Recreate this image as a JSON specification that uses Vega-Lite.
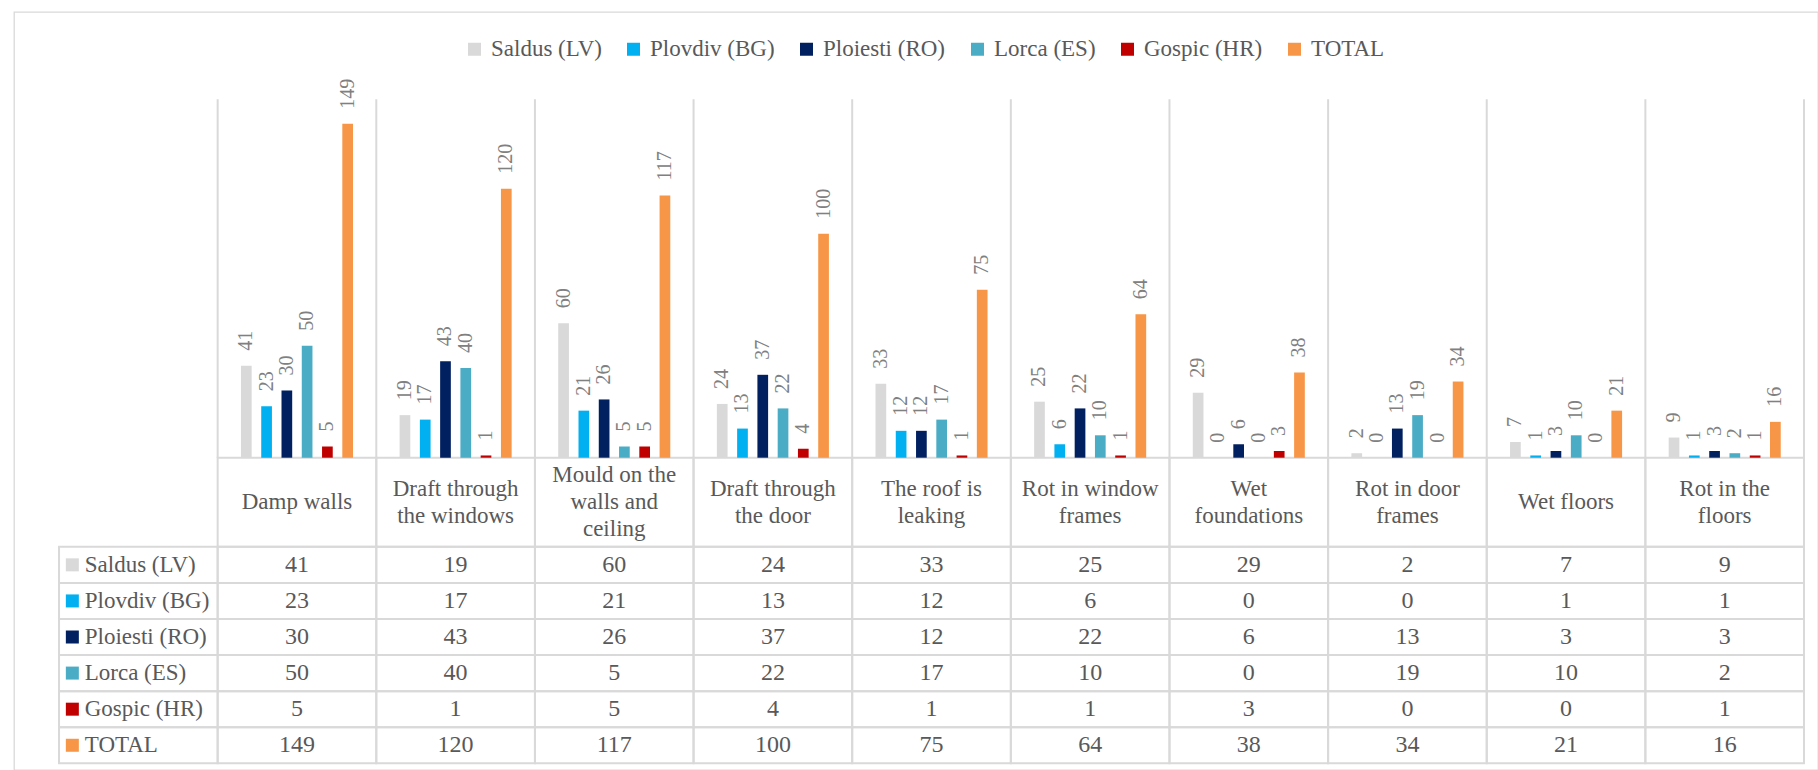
{
  "$schema": "https://vega.github.io/schema/vega-lite/v6.json",
  "width": 1804,
  "height": 758,
  "autosize": {"type": "none"},
  "padding": {"left": 14, "top": 12, "right": 0, "bottom": 0},
  "background": "white",
  "config": {
    "view": {"stroke": "#d9d9d9", "strokeWidth": 1.3},
    "font": "Liberation Serif",
    "text": {"font": "Liberation Serif"}
  },
  "datasets": {
    "counts": [
      {"issue": "Damp walls", "place": "Saldus (LV)", "n": 41},
      {"issue": "Damp walls", "place": "Plovdiv (BG)", "n": 23},
      {"issue": "Damp walls", "place": "Ploiesti (RO)", "n": 30},
      {"issue": "Damp walls", "place": "Lorca (ES)", "n": 50},
      {"issue": "Damp walls", "place": "Gospic (HR)", "n": 5},
      {"issue": "Damp walls", "place": "TOTAL", "n": 149},
      {"issue": "Draft through the windows", "place": "Saldus (LV)", "n": 19},
      {"issue": "Draft through the windows", "place": "Plovdiv (BG)", "n": 17},
      {"issue": "Draft through the windows", "place": "Ploiesti (RO)", "n": 43},
      {"issue": "Draft through the windows", "place": "Lorca (ES)", "n": 40},
      {"issue": "Draft through the windows", "place": "Gospic (HR)", "n": 1},
      {"issue": "Draft through the windows", "place": "TOTAL", "n": 120},
      {"issue": "Mould on the walls and ceiling", "place": "Saldus (LV)", "n": 60},
      {"issue": "Mould on the walls and ceiling", "place": "Plovdiv (BG)", "n": 21},
      {"issue": "Mould on the walls and ceiling", "place": "Ploiesti (RO)", "n": 26},
      {"issue": "Mould on the walls and ceiling", "place": "Lorca (ES)", "n": 5},
      {"issue": "Mould on the walls and ceiling", "place": "Gospic (HR)", "n": 5},
      {"issue": "Mould on the walls and ceiling", "place": "TOTAL", "n": 117},
      {"issue": "Draft through the door", "place": "Saldus (LV)", "n": 24},
      {"issue": "Draft through the door", "place": "Plovdiv (BG)", "n": 13},
      {"issue": "Draft through the door", "place": "Ploiesti (RO)", "n": 37},
      {"issue": "Draft through the door", "place": "Lorca (ES)", "n": 22},
      {"issue": "Draft through the door", "place": "Gospic (HR)", "n": 4},
      {"issue": "Draft through the door", "place": "TOTAL", "n": 100},
      {"issue": "The roof is leaking", "place": "Saldus (LV)", "n": 33},
      {"issue": "The roof is leaking", "place": "Plovdiv (BG)", "n": 12},
      {"issue": "The roof is leaking", "place": "Ploiesti (RO)", "n": 12},
      {"issue": "The roof is leaking", "place": "Lorca (ES)", "n": 17},
      {"issue": "The roof is leaking", "place": "Gospic (HR)", "n": 1},
      {"issue": "The roof is leaking", "place": "TOTAL", "n": 75},
      {"issue": "Rot in window frames", "place": "Saldus (LV)", "n": 25},
      {"issue": "Rot in window frames", "place": "Plovdiv (BG)", "n": 6},
      {"issue": "Rot in window frames", "place": "Ploiesti (RO)", "n": 22},
      {"issue": "Rot in window frames", "place": "Lorca (ES)", "n": 10},
      {"issue": "Rot in window frames", "place": "Gospic (HR)", "n": 1},
      {"issue": "Rot in window frames", "place": "TOTAL", "n": 64},
      {"issue": "Wet foundations", "place": "Saldus (LV)", "n": 29},
      {"issue": "Wet foundations", "place": "Plovdiv (BG)", "n": 0},
      {"issue": "Wet foundations", "place": "Ploiesti (RO)", "n": 6},
      {"issue": "Wet foundations", "place": "Lorca (ES)", "n": 0},
      {"issue": "Wet foundations", "place": "Gospic (HR)", "n": 3},
      {"issue": "Wet foundations", "place": "TOTAL", "n": 38},
      {"issue": "Rot in door frames", "place": "Saldus (LV)", "n": 2},
      {"issue": "Rot in door frames", "place": "Plovdiv (BG)", "n": 0},
      {"issue": "Rot in door frames", "place": "Ploiesti (RO)", "n": 13},
      {"issue": "Rot in door frames", "place": "Lorca (ES)", "n": 19},
      {"issue": "Rot in door frames", "place": "Gospic (HR)", "n": 0},
      {"issue": "Rot in door frames", "place": "TOTAL", "n": 34},
      {"issue": "Wet floors", "place": "Saldus (LV)", "n": 7},
      {"issue": "Wet floors", "place": "Plovdiv (BG)", "n": 1},
      {"issue": "Wet floors", "place": "Ploiesti (RO)", "n": 3},
      {"issue": "Wet floors", "place": "Lorca (ES)", "n": 10},
      {"issue": "Wet floors", "place": "Gospic (HR)", "n": 0},
      {"issue": "Wet floors", "place": "TOTAL", "n": 21},
      {"issue": "Rot in the floors", "place": "Saldus (LV)", "n": 9},
      {"issue": "Rot in the floors", "place": "Plovdiv (BG)", "n": 1},
      {"issue": "Rot in the floors", "place": "Ploiesti (RO)", "n": 3},
      {"issue": "Rot in the floors", "place": "Lorca (ES)", "n": 2},
      {"issue": "Rot in the floors", "place": "Gospic (HR)", "n": 1},
      {"issue": "Rot in the floors", "place": "TOTAL", "n": 16}
    ],
    "issues": [
      {"issue": "Damp walls", "label": "Damp walls"},
      {"issue": "Draft through the windows", "label": "Draft through\nthe windows"},
      {"issue": "Mould on the walls and ceiling", "label": "Mould on the\nwalls and\nceiling"},
      {"issue": "Draft through the door", "label": "Draft through\nthe door"},
      {"issue": "The roof is leaking", "label": "The roof is\nleaking"},
      {"issue": "Rot in window frames", "label": "Rot in window\nframes"},
      {"issue": "Wet foundations", "label": "Wet\nfoundations"},
      {"issue": "Rot in door frames", "label": "Rot in door\nframes"},
      {"issue": "Wet floors", "label": "Wet floors"},
      {"issue": "Rot in the floors", "label": "Rot in the\nfloors"}
    ],
    "places": [
      {"place": "Saldus (LV)"},
      {"place": "Plovdiv (BG)"},
      {"place": "Ploiesti (RO)"},
      {"place": "Lorca (ES)"},
      {"place": "Gospic (HR)"},
      {"place": "TOTAL"}
    ]
  },
  "resolve": {"scale": {"y": "independent"}},
  "layer": [
    {
      "data": {"name": "issues"},
      "mark": {"type": "rule", "color": "#d9d9d9", "strokeWidth": 2},
      "encoding": {
        "x": {"field": "issue", "type": "nominal", "bandPosition": 0, "axis": null,
              "scale": {"type": "band", "domain": ["Place", "Damp walls", "Draft through the windows", "Mould on the walls and ceiling", "Draft through the door", "The roof is leaking", "Rot in window frames", "Wet foundations", "Rot in door frames", "Wet floors", "Rot in the floors"], "paddingInner": 0, "paddingOuter": 0.186, "align": 0.763}},
        "y": {"datum": 160, "type": "quantitative", "axis": null, "scale": {"domain": [-139.38, 198.92], "nice": false, "zero": false}},
        "y2": {"datum": 0}
      }
    },
    {
      "data": {"name": "issues"},
      "transform": [{"filter": "datum.issue === 'Rot in the floors'"}],
      "mark": {"type": "rule", "color": "#d9d9d9", "strokeWidth": 2},
      "encoding": {
        "x": {"field": "issue", "type": "nominal", "bandPosition": 1, "axis": null},
        "y": {"datum": 160, "type": "quantitative", "axis": null, "scale": {"domain": [-139.38, 198.92], "nice": false, "zero": false}},
        "y2": {"datum": 0}
      }
    },
    {
      "data": {"name": "issues"},
      "mark": {"type": "rect", "filled": false, "color": "#d9d9d9", "strokeWidth": 2},
      "encoding": {
        "x": {"field": "issue", "type": "nominal", "axis": null},
        "y": {"datum": 0, "type": "quantitative", "axis": null, "scale": {"domain": [-139.38, 198.92], "nice": false, "zero": false}},
        "y2": {"datum": -39.77}
      }
    },
    {
      "data": {"name": "issues"},
      "transform": [{"filter": "length(split(datum.label, '\\n')) == 1"}],
      "mark": {"type": "text", "fontSize": 23, "color": "#595959", "align": "center", "baseline": "middle", "lineBreak": "\n", "lineHeight": 27},
      "encoding": {
        "x": {"field": "issue", "type": "nominal", "axis": null},
        "y": {"datum": -19.9, "type": "quantitative", "axis": null, "scale": {"domain": [-139.38, 198.92], "nice": false, "zero": false}},
        "text": {"field": "label"}
      }
    },
    {
      "data": {"name": "issues"},
      "transform": [{"filter": "length(split(datum.label, '\\n')) == 2"}],
      "mark": {"type": "text", "fontSize": 23, "color": "#595959", "align": "center", "baseline": "middle", "lineBreak": "\n", "lineHeight": 27},
      "encoding": {
        "x": {"field": "issue", "type": "nominal", "axis": null},
        "y": {"datum": -13.88, "type": "quantitative", "axis": null, "scale": {"domain": [-139.38, 198.92], "nice": false, "zero": false}},
        "text": {"field": "label"}
      }
    },
    {
      "data": {"name": "issues"},
      "transform": [{"filter": "length(split(datum.label, '\\n')) == 3"}],
      "mark": {"type": "text", "fontSize": 23, "color": "#595959", "align": "center", "baseline": "middle", "lineBreak": "\n", "lineHeight": 27},
      "encoding": {
        "x": {"field": "issue", "type": "nominal", "axis": null},
        "y": {"datum": -7.85, "type": "quantitative", "axis": null, "scale": {"domain": [-139.38, 198.92], "nice": false, "zero": false}},
        "text": {"field": "label"}
      }
    },
    {
      "data": {"name": "counts"},
      "mark": {"type": "rect", "filled": false, "color": "#d9d9d9", "strokeWidth": 2},
      "encoding": {
        "x": {"field": "issue", "type": "nominal", "axis": null},
        "y": {"field": "place", "type": "nominal", "axis": null,
              "scale": {"type": "band", "domain": ["Saldus (LV)", "Plovdiv (BG)", "Ploiesti (RO)", "Lorca (ES)", "Gospic (HR)", "TOTAL"], "paddingInner": 0, "paddingOuter": 0, "range": [534.8, 751.3]}}
      }
    },
    {
      "data": {"name": "places"},
      "mark": {"type": "rect", "filled": false, "color": "#d9d9d9", "strokeWidth": 2},
      "encoding": {
        "x": {"datum": "Place", "type": "nominal", "axis": null},
        "y": {"field": "place", "type": "nominal", "axis": null,
              "scale": {"type": "band", "domain": ["Saldus (LV)", "Plovdiv (BG)", "Ploiesti (RO)", "Lorca (ES)", "Gospic (HR)", "TOTAL"], "paddingInner": 0, "paddingOuter": 0, "range": [534.8, 751.3]}}
      }
    },
    {
      "data": {"name": "counts"},
      "mark": {"type": "text", "fontSize": 24, "color": "#595959", "align": "center", "baseline": "middle"},
      "encoding": {
        "x": {"field": "issue", "type": "nominal", "axis": null},
        "y": {"field": "place", "type": "nominal", "axis": null,
              "scale": {"type": "band", "domain": ["Saldus (LV)", "Plovdiv (BG)", "Ploiesti (RO)", "Lorca (ES)", "Gospic (HR)", "TOTAL"], "paddingInner": 0, "paddingOuter": 0, "range": [534.8, 751.3]}},
        "text": {"field": "n", "type": "quantitative"}
      }
    },
    {
      "data": {"name": "places"},
      "mark": {"type": "text", "fontSize": 23, "color": "#595959", "align": "left", "baseline": "middle", "dx": -53.6},
      "encoding": {
        "x": {"datum": "Place", "type": "nominal", "axis": null},
        "y": {"field": "place", "type": "nominal", "axis": null,
              "scale": {"type": "band", "domain": ["Saldus (LV)", "Plovdiv (BG)", "Ploiesti (RO)", "Lorca (ES)", "Gospic (HR)", "TOTAL"], "paddingInner": 0, "paddingOuter": 0, "range": [534.8, 751.3]}},
        "text": {"field": "place"}
      }
    },
    {
      "data": {"name": "places"},
      "mark": {"type": "point", "shape": "square", "filled": true, "size": 169, "opacity": 1, "strokeWidth": 0, "xOffset": -66},
      "encoding": {
        "x": {"datum": "Place", "type": "nominal", "axis": null},
        "y": {"field": "place", "type": "nominal", "axis": null,
              "scale": {"type": "band", "domain": ["Saldus (LV)", "Plovdiv (BG)", "Ploiesti (RO)", "Lorca (ES)", "Gospic (HR)", "TOTAL"], "paddingInner": 0, "paddingOuter": 0, "range": [534.8, 751.3]}},
        "color": {"field": "place", "type": "nominal"}
      }
    },
    {
      "data": {"name": "counts"},
      "mark": {"type": "bar"},
      "encoding": {
        "x": {"field": "issue", "type": "nominal", "axis": null},
        "xOffset": {"field": "place", "type": "nominal",
                    "scale": {"domain": ["Saldus (LV)", "Plovdiv (BG)", "Ploiesti (RO)", "Lorca (ES)", "Gospic (HR)", "TOTAL"], "paddingInner": 0.472, "paddingOuter": 0, "range": [23.3, 135.35]}},
        "y": {"field": "n", "type": "quantitative", "axis": null, "scale": {"domain": [-139.38, 198.92], "nice": false, "zero": false}},
        "y2": {"datum": 0},
        "color": {"field": "place", "type": "nominal",
                  "scale": {"domain": ["Saldus (LV)", "Plovdiv (BG)", "Ploiesti (RO)", "Lorca (ES)", "Gospic (HR)", "TOTAL"], "range": ["#d9d9d9", "#00b0f0", "#002060", "#4bacc6", "#c00000", "#f79646"]},
                  "legend": {"orient": "none", "legendX": 449, "legendY": 25.5, "direction": "horizontal", "columns": 6, "title": null,
                             "symbolType": "square", "symbolSize": 169, "symbolStrokeWidth": 0, "symbolOpacity": 1,
                             "labelFont": "Liberation Serif", "labelFontSize": 23, "labelColor": "#595959",
                             "labelOffset": 5, "columnPadding": 20, "labelLimit": 400}}
      }
    },
    {
      "data": {"name": "counts"},
      "mark": {"type": "text", "fontSize": 20, "color": "#808080", "angle": 270, "align": "left", "baseline": "middle", "dx": 15},
      "encoding": {
        "x": {"field": "issue", "type": "nominal", "axis": null},
        "xOffset": {"field": "place", "type": "nominal"},
        "y": {"field": "n", "type": "quantitative", "axis": null, "scale": {"domain": [-139.38, 198.92], "nice": false, "zero": false}},
        "text": {"field": "n", "type": "quantitative"}
      }
    }
  ]
}
